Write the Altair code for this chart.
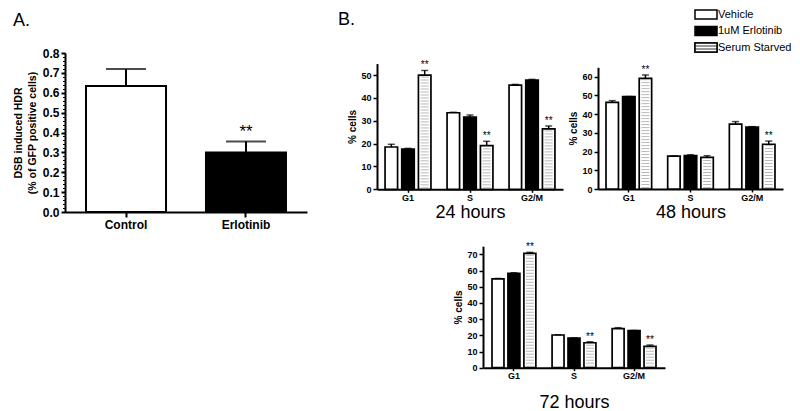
import altair as alt
import pandas as pd

FONT = "Liberation Sans"

# ---------------- data ----------------
groups = ["Vehicle", "1uM Erlotinib", "Serum Starved"]
phases = ["G1", "S", "G2/M"]

# Panel A
a_conditions = ["Control", "Erlotinib"]
a_mean = [0.634, 0.300]
a_sem = [0.086, 0.055]
a_sig = ["", "**"]

# Panel B, 24 hours (G1, S, G2/M)
h24_vehicle = [18.5, 33.5, 45.6]
h24_vehicle_sem = [1.2, 0.2, 0.3]
h24_erlotinib = [17.6, 31.6, 47.8]
h24_erlotinib_sem = [0.3, 0.9, 0.3]
h24_serum = [50.0, 19.1, 26.4]
h24_serum_sem = [2.0, 1.9, 1.3]
h24_serum_sig = ["**", "**", "**"]

# 48 hours
h48_vehicle = [46.3, 17.6, 34.7]
h48_vehicle_sem = [0.9, 0.1, 1.3]
h48_erlotinib = [49.3, 17.8, 33.1]
h48_erlotinib_sem = [0.1, 0.5, 0.2]
h48_serum = [59.1, 16.9, 23.9]
h48_serum_sem = [1.8, 0.9, 1.7]
h48_serum_sig = ["**", "", "**"]

# 72 hours
h72_vehicle = [54.8, 20.2, 24.1]
h72_vehicle_sem = [0.3, 0.1, 0.6]
h72_erlotinib = [58.3, 18.3, 22.9]
h72_erlotinib_sem = [0.3, 0.1, 0.1]
h72_serum = [70.6, 15.4, 13.2]
h72_serum_sem = [0.6, 0.6, 0.8]
h72_serum_sig = ["**", "**", "**"]

no_sig = ["", "", ""]

# ---------------- helpers ----------------
color_scale = alt.Scale(domain=groups, range=["white", "black", "white"])
H = 403


def panel_df(vals, sems, sigs):
    rows = []
    for g, v, s, sg in zip(groups, vals, sems, sigs):
        for p, vv, ss, sgg in zip(phases, v, s, sg):
            rows.append(dict(phase=p, group=g, mean=vv, sem=ss, sig=sgg))
    return pd.DataFrame(rows)


def panel_b(df, xrange, ybase, ytop, ymax, yvals, title, title_pad, stripe_step,
            pin=0.26, pout=0.13):
    base = alt.Chart(df).transform_calculate(upper="datum.mean + datum.sem")
    xs = alt.Scale(domain=phases, range=xrange, paddingInner=pin, paddingOuter=pout)
    xos = alt.Scale(domain=groups, paddingInner=0.25, paddingOuter=0)
    ys = alt.Scale(domain=[0, ymax], range=[ybase, ytop], nice=False, zero=True)
    x_axis = alt.Axis(orient="bottom", offset=ybase - H, tickSize=3, tickWidth=1.5,
                      domainWidth=2, labelFontSize=9, labelFontWeight="bold",
                      labelPadding=1, labelAngle=0, title=title, titleFontSize=18,
                      titleFontWeight="normal", titlePadding=title_pad)
    y_axis = alt.Axis(orient="left", offset=-xrange[0], values=yvals, tickSize=4,
                      tickWidth=1.5, domainWidth=2, labelFontSize=9,
                      labelFontWeight="bold", labelPadding=2, title="% cells",
                      titleFontSize=10, titleFontWeight="bold", titlePadding=3)
    xo = alt.XOffset("group:N", scale=xos)
    bars = base.mark_bar(stroke="black", strokeWidth=1.7).encode(
        x=alt.X("phase:N", scale=xs, axis=x_axis),
        xOffset=xo,
        y=alt.Y("mean:Q", scale=ys, axis=y_axis),
        fill=alt.Fill("group:N", scale=color_scale, legend=None),
    )
    xn = alt.X("phase:N", scale=xs, axis=None)
    stripes = (
        base.transform_filter(alt.datum.group == "Serum Starved")
        .transform_calculate(s=f"sequence({stripe_step / 2}, datum.mean - {stripe_step * 0.4}, {stripe_step})")
        .transform_flatten(["s"])
        .mark_tick(color="#9a9a9a", thickness=1, size=8)
        .encode(x=xn, xOffset=xo, y=alt.Y("s:Q", scale=ys, axis=None))
    )
    err = base.mark_rule(color="black", strokeWidth=1.5).encode(
        x=xn, xOffset=xo, y=alt.Y("mean:Q", scale=ys, axis=None), y2="upper:Q"
    )
    caps = base.mark_tick(color="black", thickness=1.5, size=7).encode(
        x=xn, xOffset=xo, y=alt.Y("upper:Q", scale=ys, axis=None)
    )
    stars = base.mark_text(fontSize=10, dy=-2, baseline="alphabetic").encode(
        x=xn, xOffset=xo, y=alt.Y("upper:Q", scale=ys, axis=None), text="sig:N"
    )
    return alt.layer(bars, stripes, err, caps, stars).resolve_axis(x="independent", y="independent")


# ---------------- Panel A ----------------
dfa = pd.DataFrame(dict(cond=a_conditions, mean=a_mean, sem=a_sem, sig=a_sig))
basea = alt.Chart(dfa).transform_calculate(upper="datum.mean + datum.sem")
xsa = alt.Scale(domain=a_conditions, range=[57, 299], paddingInner=0.333, paddingOuter=0.175)
ysa = alt.Scale(domain=[0, 0.8], range=[204, 45], nice=False, zero=True)
a_ticks = [0, 0.1, 0.2, 0.3, 0.4, 0.5, 0.6, 0.7, 0.8]
a_minor = [round(i * 0.02, 2) for i in range(41)]

bars_a = basea.mark_bar(stroke="black", strokeWidth=2).encode(
    x=alt.X("cond:N", scale=xsa, axis=alt.Axis(
        orient="bottom", offset=204 - H, tickSize=5, tickWidth=2, domainWidth=2,
        labelFontSize=12, labelFontWeight="bold", labelPadding=2, labelAngle=0, title=None)),
    y=alt.Y("mean:Q", scale=ysa, axis=alt.Axis(
        orient="left", offset=-57, values=a_ticks, format=".1f", tickSize=4, tickWidth=2,
        domainWidth=2, labelFontSize=12, labelFontWeight="bold", labelPadding=2,
        title=["DSB induced  HDR", "(% of GFP positive cells)"], titleFontSize=10.5,
        titleFontWeight="bold", titlePadding=5, titleLineHeight=13.4)),
    fill=alt.condition(alt.datum.cond == "Control", alt.value("white"), alt.value("black")),
)
xna = alt.X("cond:N", scale=xsa, axis=None)
err_a = basea.mark_rule(color="black", strokeWidth=2).encode(
    x=xna, y=alt.Y("mean:Q", scale=ysa, axis=None), y2="upper:Q")
caps_a = basea.mark_tick(color="black", thickness=2, size=40).encode(
    x=xna, y=alt.Y("upper:Q", scale=ysa, axis=None))
stars_a = basea.mark_text(fontSize=17, dy=-4, baseline="alphabetic").encode(
    x=xna, y=alt.Y("upper:Q", scale=ysa, axis=None), text="sig:N")
minor_a = basea.mark_tick(opacity=0).encode(
    x=xna,
    y=alt.Y("mean:Q", scale=ysa, axis=alt.Axis(
        orient="left", offset=-57, values=a_minor, labels=False, domain=False,
        tickSize=2.5, tickWidth=1, title=None)),
)
panel_a = alt.layer(bars_a, err_a, caps_a, stars_a, minor_a).resolve_axis(x="independent", y="independent")

# ---------------- Panel B ----------------
df24 = panel_df([h24_vehicle, h24_erlotinib, h24_serum],
                [h24_vehicle_sem, h24_erlotinib_sem, h24_serum_sem],
                [no_sig, no_sig, h24_serum_sig])
df48 = panel_df([h48_vehicle, h48_erlotinib, h48_serum],
                [h48_vehicle_sem, h48_erlotinib_sem, h48_serum_sem],
                [no_sig, no_sig, h48_serum_sig])
df72 = panel_df([h72_vehicle, h72_erlotinib, h72_serum],
                [h72_vehicle_sem, h72_erlotinib_sem, h72_serum_sem],
                [no_sig, no_sig, h72_serum_sig])

p24 = panel_b(df24, [369, 555], 181.3, 55.6, 55, [0, 10, 20, 30, 40, 50], "24 hours", 1, 1.31)
p48 = panel_b(df48, [590, 775], 181.0, 59.3, 65, [0, 10, 20, 30, 40, 50, 60], "48 hours", 1, 1.6)
p72 = panel_b(df72, [475, 657], 359.7, 238.2, 75, [0, 10, 20, 30, 40, 50, 60, 70], "72 hours", 13, 1.85,
              pin=0.27, pout=0.15)

# ---------------- Legend ----------------
legend_df = pd.DataFrame(dict(group=groups))
RECT = "M-1,-0.41H1V0.41H-1Z"
leg_y = alt.Y("group:N", scale=alt.Scale(type="point", domain=groups, range=[6.5, 39.5], padding=0), axis=None)
stripe_grad = {
    "gradient": "linear", "x1": 0, "y1": 0, "x2": 0, "y2": 1,
    "stops": [
        {"offset": 0, "color": "white"}, {"offset": 0.27, "color": "white"},
        {"offset": 0.27, "color": "#9a9a9a"}, {"offset": 0.39, "color": "#9a9a9a"},
        {"offset": 0.39, "color": "white"}, {"offset": 0.61, "color": "white"},
        {"offset": 0.61, "color": "#9a9a9a"}, {"offset": 0.73, "color": "#9a9a9a"},
        {"offset": 0.73, "color": "white"}, {"offset": 1, "color": "white"},
    ],
}
leg_sym = alt.Chart(legend_df).mark_point(
    shape=RECT, size=484, filled=True, opacity=1, stroke="black", strokeWidth=1.5
).encode(x=alt.value(698), y=leg_y, fill=alt.Fill("group:N", scale=color_scale, legend=None))
leg_str = alt.Chart(legend_df).transform_filter(alt.datum.group == "Serum Starved").mark_point(
    shape=RECT, size=484, filled=True, opacity=1, fill=stripe_grad, stroke="black", strokeWidth=1.5
).encode(x=alt.value(698), y=leg_y)
leg_txt = alt.Chart(legend_df).mark_text(align="left", baseline="middle", fontSize=11).encode(
    x=alt.value(710), y=leg_y, text="group:N")
legend = alt.layer(leg_sym, leg_str, leg_txt)

# ---------------- panel letters ----------------
lab_a = alt.Chart(pd.DataFrame(dict(t=["A."]))).mark_text(
    align="left", baseline="alphabetic", fontSize=18).encode(x=alt.value(5), y=alt.value(18), text="t:N")
lab_b = alt.Chart(pd.DataFrame(dict(t=["B."]))).mark_text(
    align="left", baseline="alphabetic", fontSize=18).encode(x=alt.value(330), y=alt.value(17), text="t:N")

chart = (
    alt.layer(panel_a, p24, p48, p72, legend, lab_a, lab_b)
    .resolve_scale(x="independent", y="independent", xOffset="independent")
    .resolve_axis(x="independent", y="independent")
    .properties(width=784, height=H, autosize=alt.AutoSizeParams(type="none"), padding=0)
    .configure(font=FONT)
    .configure_view(stroke=None)
    .configure_axis(grid=False, domainColor="black", tickColor="black", labelColor="black",
                    titleColor="black", labelFont=FONT, titleFont=FONT)
    .configure_text(font=FONT, color="black")
)

chart.save("out.html", embed_options={"renderer": "svg", "actions": False})
